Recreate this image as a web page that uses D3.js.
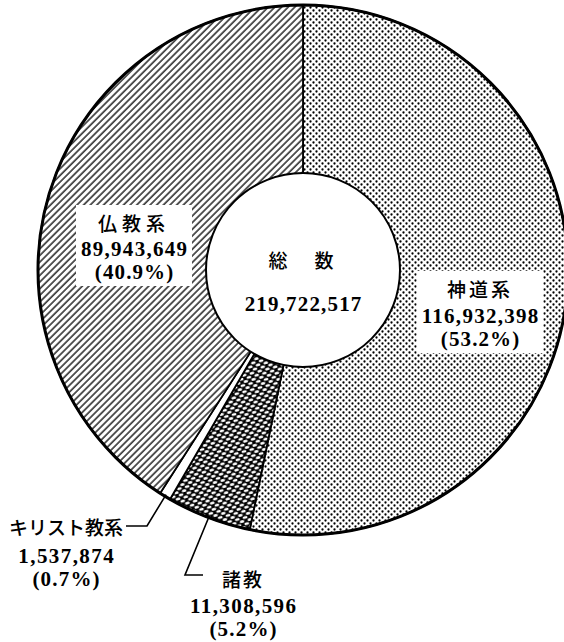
<!DOCTYPE html>
<html>
<head>
<meta charset="utf-8">
<script src="https://cdn.jsdelivr.net/npm/d3@7"></script>
<style>
  body { margin: 0; background: #fff; }
  svg { display: block; }
</style>
</head>
<body>
<div id="chart"></div>
<script>
// Data
const categories = ["神道系", "諸教", "キリスト教系", "仏教系"];
const counts = [116932398, 11308596, 1537874, 89943649];
const percents = ["53.2%", "5.2%", "0.7%", "40.9%"];
const totalLabel = "総　数";
const totalValue = 219722517;

// Layout
const width = 564, height = 642;
const cx = 303, cy = 270, rOuter = 265, rInner = 97;
const fmt = d3.format(",");

const svg = d3.select("#chart").append("svg")
  .attr("width", width)
  .attr("height", height);

// Patterns
const defs = svg.append("defs");

const dots = defs.append("pattern")
  .attr("id", "dots")
  .attr("patternUnits", "userSpaceOnUse")
  .attr("width", 6).attr("height", 6);
dots.append("rect").attr("width", 6).attr("height", 6).attr("fill", "#fff");
dots.append("circle").attr("cx", 1.5).attr("cy", 1.5).attr("r", 1.15).attr("fill", "#000");
dots.append("circle").attr("cx", 4.5).attr("cy", 4.5).attr("r", 1.15).attr("fill", "#000");

const mesh = defs.append("pattern")
  .attr("id", "mesh")
  .attr("patternUnits", "userSpaceOnUse")
  .attr("width", 8).attr("height", 6.4)
  .attr("patternTransform", "rotate(-15)");
mesh.append("rect").attr("width", 8).attr("height", 6.4).attr("fill", "#000");
[[0, 0], [8, 0], [0, 6.4], [8, 6.4], [4, 3.2]].forEach(p => {
  mesh.append("ellipse")
    .attr("cx", p[0]).attr("cy", p[1])
    .attr("rx", 2.5).attr("ry", 1.4)
    .attr("fill", "#fff");
});

const hatch = defs.append("pattern")
  .attr("id", "hatch")
  .attr("patternUnits", "userSpaceOnUse")
  .attr("width", 4.7).attr("height", 4.7)
  .attr("patternTransform", "rotate(45)");
hatch.append("rect").attr("width", 4.7).attr("height", 4.7).attr("fill", "#fff");
hatch.append("line")
  .attr("x1", 1).attr("y1", 0).attr("x2", 1).attr("y2", 4.7)
  .attr("stroke", "#000").attr("stroke-width", 1.3);

const fills = ["url(#dots)", "url(#mesh)", "#fff", "url(#hatch)"];

// Pie
const pie = d3.pie().sort(null).value(d => d);
const arcs = pie(counts);
const arc = d3.arc().innerRadius(0).outerRadius(rOuter);

const g = svg.append("g").attr("transform", `translate(${cx},${cy})`);

g.selectAll("path.slice")
  .data(arcs)
  .enter()
  .append("path")
  .attr("class", "slice")
  .attr("d", arc)
  .attr("fill", (d, i) => fills[i])
  .attr("stroke", "#000")
  .attr("stroke-width", 1.8)
  .attr("stroke-linejoin", "round");

g.append("circle")
  .attr("r", rOuter)
  .attr("fill", "none")
  .attr("stroke", "#000")
  .attr("stroke-width", 3);

g.append("circle")
  .attr("r", rInner)
  .attr("fill", "#fff")
  .attr("stroke", "#000")
  .attr("stroke-width", 2);

// Text helpers
const jpFont = "'Noto Sans CJK JP', sans-serif";
const numFont = "'Liberation Serif', 'Times New Roman', serif";

function addLine(parent, x, y, str, kind, spacing) {
  const t = parent.append("text")
    .attr("x", x).attr("y", y)
    .attr("text-anchor", "middle")
    .attr("fill", "#000")
    .text(str);
  if (kind === "jp") {
    t.attr("font-family", jpFont)
      .attr("font-size", 19)
      .attr("font-weight", 500)
      .attr("letter-spacing", spacing);
  } else {
    t.attr("font-family", numFont)
      .attr("font-size", 21)
      .attr("font-weight", "bold")
      .attr("textLength", str.length * (kind === "pct" ? 11.2 : 10.6))
      .attr("lengthAdjust", "spacing");
  }
  return t;
}

// label layout: x, y of first baseline, line gap, jp spacing, boxed
const labelPos = [
  { x: 480, y: 297, gap: [26, 23], sp: 3, box: true },
  { x: 243, y: 587, gap: [26, 23], sp: 2, box: false },
  { x: 66, y: 535, gap: [28, 23], sp: 0, box: false },
  { x: 134, y: 231, gap: [25, 23], sp: 5, box: true }
];

categories.forEach((name, i) => {
  const p = labelPos[i];
  const lg = svg.append("g");
  const bg = lg.append("rect").attr("fill", "#fff");
  addLine(lg, p.x, p.y, name, "jp", p.sp);
  addLine(lg, p.x, p.y + p.gap[0], fmt(counts[i]), "num");
  addLine(lg, p.x, p.y + p.gap[0] + p.gap[1], "(" + percents[i] + ")", "pct");
  if (p.box) {
    const bb = lg.node().getBBox();
    bg.attr("x", bb.x - 5).attr("y", bb.y - 4)
      .attr("width", bb.width + 10).attr("height", bb.height + 6);
  } else {
    bg.remove();
  }
});

// Leader lines for the small slices
const edge = d3.arc().innerRadius(rOuter - 2).outerRadius(rOuter - 2);
const leaders = [
  { i: 2, pts: [[126, 526], [147, 526]] },
  { i: 1, pts: [[203, 575], [185, 575]] }
];
leaders.forEach(l => {
  const c = edge.centroid(arcs[l.i]);
  const pts = l.pts.concat([[cx + c[0], cy + c[1]]]);
  svg.append("path")
    .attr("d", d3.line()(pts))
    .attr("fill", "none")
    .attr("stroke", "#000")
    .attr("stroke-width", 1.6);
});

// Centre total
addLine(svg, cx, 268, totalLabel, "jp", 4);
addLine(svg, cx, 311, fmt(totalValue), "num");
</script>
</body>
</html>
